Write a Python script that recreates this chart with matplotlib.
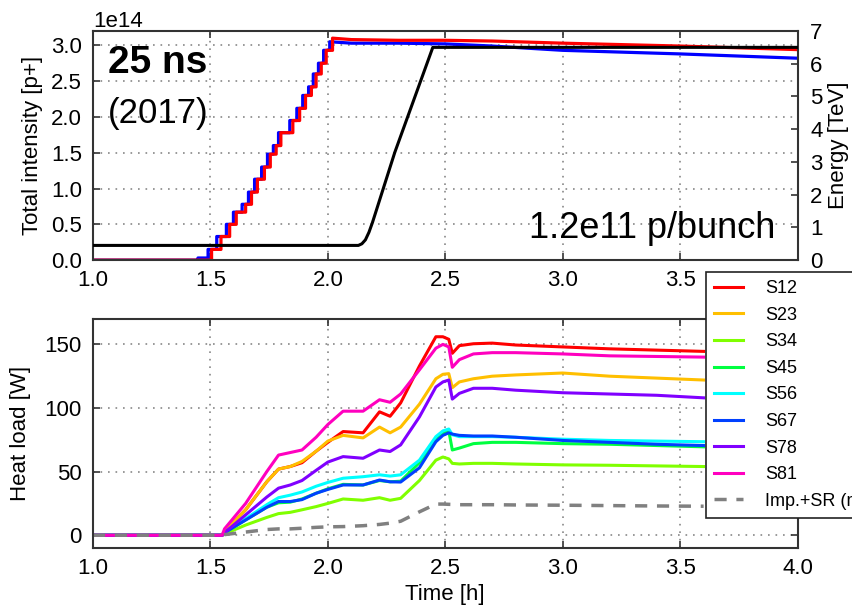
import numpy as np
import matplotlib
matplotlib.use("Agg")
import matplotlib.pyplot as plt

plt.rcParams["font.family"] = ["Liberation Sans", "DejaVu Sans"]

# ---- top panel: beam intensity (steps) and energy ----
B1_STEP_T = [1.505, 1.545, 1.582, 1.61, 1.65, 1.675, 1.70, 1.73, 1.755, 1.78,
             1.80, 1.851, 1.88, 1.905, 1.93, 1.95, 1.972, 1.993, 2.02]
B1_STEP_I = [0.15, 0.33, 0.50, 0.67, 0.78, 0.95, 1.13, 1.30, 1.48, 1.60,
             1.78, 1.95, 2.12, 2.30, 2.42, 2.60, 2.75, 2.93, 3.10]
B1_TAIL_T = [2.10, 2.30, 2.50, 2.70, 3.00, 3.50, 4.00]
B1_TAIL_I = [3.08, 3.07, 3.07, 3.06, 3.03, 2.99, 2.94]

B2_STEP_T = [1.447, 1.49, 1.527, 1.568, 1.598, 1.635, 1.662, 1.688, 1.718, 1.743,
             1.768, 1.79, 1.838, 1.868, 1.893, 1.918, 1.938, 1.96, 1.982, 2.008]
B2_STEP_I = [0.03, 0.15, 0.33, 0.50, 0.67, 0.78, 0.95, 1.13, 1.30, 1.48,
             1.60, 1.78, 1.95, 2.12, 2.30, 2.42, 2.60, 2.75, 2.93, 3.05]
B2_TAIL_T = [2.10, 2.30, 2.50, 2.70, 3.00, 3.50, 4.00]
B2_TAIL_I = [3.03, 3.03, 3.02, 2.99, 2.93, 2.88, 2.82]

ENERGY_T = [1.0, 2.13, 2.145, 2.16, 2.175, 2.19, 2.21, 2.285, 2.447, 4.0]
ENERGY_TEV = [0.45, 0.45, 0.5, 0.62, 0.85, 1.15, 1.6, 3.29, 6.5, 6.5]

# ---- bottom panel: heat loads per sector ----
T_HL = [1.0, 1.55, 1.56, 1.65, 1.74, 1.79, 1.84, 1.89, 1.95, 2.0, 2.065, 2.15,
        2.22, 2.265, 2.31, 2.39, 2.46, 2.49, 2.515, 2.53, 2.56, 2.62, 2.7, 2.8,
        3.0, 3.2, 3.4, 3.6]
S12 = [0, 0, 3, 20, 42, 52, 54, 57, 66, 73, 81.5, 80.5, 97, 93.5, 104, 133, 156,
       156, 154, 143, 149, 150.5, 151, 149.5, 148, 146.5, 145.5, 144.5]
S23 = [0, 0, 3, 20, 42, 52, 54, 58, 66, 74, 78.5, 76.5, 85, 80.5, 85, 103, 123,
       126.5, 127, 116, 120.5, 123, 125, 126, 127.5, 125, 123.5, 122]
S34 = [0, 0, 1, 8, 14, 17, 18, 20, 22.5, 25, 28.5, 27.5, 29.5, 27.5, 29, 43, 59,
       61.5, 60, 56.5, 56, 56.5, 56.5, 56, 55.3, 55, 54.5, 54]
S45 = [0, 0, 2, 12, 22, 25.5, 26, 28.5, 33, 36.5, 40, 39.5, 43, 42, 42.5, 57, 75,
       80, 82, 67, 68.5, 72, 73, 73, 72, 71.5, 70.5, 69.5]
S56 = [0, 0, 2, 13, 24, 29.5, 31.5, 34, 38.5, 41.5, 44.8, 46, 47.5, 46.5, 47.5, 59,
       77.5, 82, 83.5, 79, 77.5, 77.5, 77.5, 77, 75.5, 74.5, 74, 73.5]
S67 = [0, 0, 2, 12, 22, 26.5, 26.5, 28, 33, 36, 39.5, 39.5, 43.4, 42, 41.8, 53,
       73.5, 78.5, 80.5, 79.5, 78.5, 78, 78, 77, 74.5, 73, 71.5, 70.5]
S78 = [0, 0, 2, 16, 30, 37, 39.5, 43, 51, 57.5, 61.8, 60.5, 67, 65.8, 71, 93,
       116.5, 120.5, 122, 107, 111.5, 115.5, 115.5, 114, 112, 111, 110, 108]
S81 = [0, 0, 5, 25, 50, 63, 65, 67, 77, 87, 97.5, 97.5, 106.5, 104.5, 111, 130,
       147, 150, 148, 132, 138, 142.5, 143.5, 143.5, 142.5, 141, 140.5, 140]
IMP_SR = [0, 0, 0.5, 2.5, 4.5, 5, 5, 5.5, 6.2, 6.6, 6.8, 7.5, 8.5, 9.5, 11, 18.4,
          24.5, 24.5, 24.3, 24.2, 24, 24, 24, 23.8, 23.6, 23.3, 23, 22.8]

SECTORS = ["S12", "S23", "S34", "S45", "S56", "S67", "S78", "S81"]
SECTOR_LOADS = [S12, S23, S34, S45, S56, S67, S78, S81]
SECTOR_COLORS = ["#ff0000", "#ffbf00", "#80ff00", "#00ff40",
                 "#00ffff", "#0040ff", "#8000ff", "#ff00bf"]


def staircase(step_t, step_i, tail_t, tail_i, t0=1.0):
    xs, ys = [t0], [0.0]
    prev = 0.0
    for t, v in zip(step_t, step_i):
        xs += [t, t]
        ys += [prev, v]
        prev = v
    xs += tail_t
    ys += tail_i
    return np.array(xs), np.array(ys) * 1e14


def style_axes(ax, right=True):
    for sp in ax.spines.values():
        sp.set_color("#333333")
        sp.set_linewidth(1.5)
    ax.tick_params(direction="in", labelsize=16, length=5, width=1.2,
                   color="#333333", top=True, right=right)
    ax.tick_params(axis="y", pad=8)
    ax.tick_params(axis="x", pad=7)
    ax.grid(True, linestyle=(0, (1, 3.5)), color="#888888", linewidth=1.2)


fig = plt.figure(figsize=(8.53, 6.15), dpi=100)
ax1 = fig.add_axes([0.109, 0.577, 0.826, 0.3726])
ax2 = fig.add_axes([0.109, 0.109, 0.826, 0.3724])

# top panel
x1, y1 = staircase(B1_STEP_T, B1_STEP_I, B1_TAIL_T, B1_TAIL_I)
x2, y2 = staircase(B2_STEP_T, B2_STEP_I, B2_TAIL_T, B2_TAIL_I)
ax1.plot(x2, y2, color="#0000ff", lw=2.3)
ax1.plot(x1, y1, color="#ff0000", lw=2.3)
ax1.set_xlim(1.0, 4.0)
ax1.set_ylim(0, 3.2e14)
ax1.set_yticks(np.arange(0, 3.01e14, 0.5e14))
# 4.0 label sits under the legend in the original, so it is left out here
ax1.set_xticks([1.0, 1.5, 2.0, 2.5, 3.0, 3.5])
style_axes(ax1, right=False)
ax1.yaxis.get_offset_text().set_fontsize(16)
ax1.set_ylabel("Total intensity [p+]", fontsize=16, labelpad=6)

axe = ax1.twinx()
axe.plot(ENERGY_T, ENERGY_TEV, color="black", lw=2.2)
axe.set_ylim(0, 7)
axe.set_yticks(range(0, 8))
for sp in axe.spines.values():
    sp.set_visible(False)
axe.tick_params(direction="in", labelsize=16, length=5, width=1.2,
                color="#333333", pad=9)
axe.set_ylabel("Energy [TeV]", fontsize=16, labelpad=4)

ax1.text(0.021, 0.817, "25 ns", transform=ax1.transAxes, fontsize=28,
         fontweight="bold", va="baseline", ha="left")
ax1.text(0.021, 0.598, "(2017)", transform=ax1.transAxes, fontsize=25,
         va="baseline", ha="left")
ax1.text(0.968, 0.096, "1.2e11 p/bunch", transform=ax1.transAxes, fontsize=26,
         va="baseline", ha="right")

# bottom panel
for name, load, col in zip(SECTORS, SECTOR_LOADS, SECTOR_COLORS):
    ax2.plot(T_HL, load, color=col, lw=2.2, label=name)
ax2.plot(T_HL, IMP_SR, color="#808080", lw=2.5, dashes=(3.5, 2.8),
         label="Imp.+SR (model)")
ax2.set_xlim(1.0, 4.0)
ax2.set_ylim(-10, 170)
ax2.set_yticks([0, 50, 100, 150])
ax2.set_xticks([1.0, 1.5, 2.0, 2.5, 3.0, 3.5, 4.0])
style_axes(ax2)
ax2.set_ylabel("Heat load [W]", fontsize=16, labelpad=10)
ax2.set_xlabel("Time [h]", fontsize=16, labelpad=4)

leg = ax2.legend(loc="upper left", bbox_to_anchor=(0.8277, 0.5577),
                 bbox_transform=fig.transFigure, borderaxespad=0, fontsize=13,
                 frameon=True, fancybox=False, framealpha=1.0,
                 edgecolor="#222222", handlelength=1.6, handletextpad=1.2,
                 labelspacing=0.53, borderpad=0.45)
leg.get_frame().set_linewidth(1.2)
leg.set_zorder(10)

fig.savefig("out.png", dpi=100)
